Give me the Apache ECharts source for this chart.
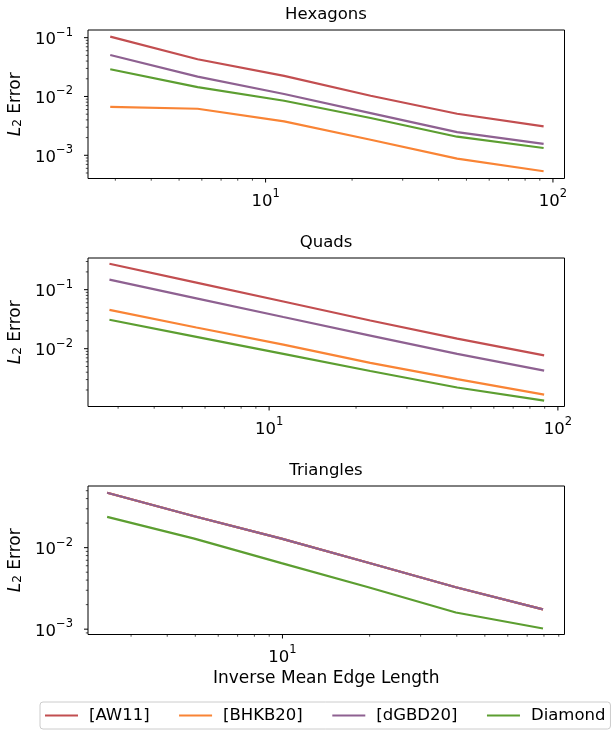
<!DOCTYPE html>
<html>
<head>
<meta charset="utf-8">
<script src="https://cdn.jsdelivr.net/npm/echarts@6/dist/echarts.min.js"></script>
<style>
html, body { margin: 0; padding: 0; background: #fff; }
#main { width: 611px; height: 734px; }
</style>
</head>
<body>
<div id="main"></div>
<script>
const seriesNames = ['[AW11]', '[BHKB20]', '[dGBD20]', 'Diamond'];
const colors = ['#c24e50', '#f98435', '#8e6191', '#5c9e31'];
const panelTitles = ['Hexagons', 'Quads', 'Triangles'];

// Hexagons
const hexX = [2.88, 5.8, 11.6, 23.2, 46.4, 92.8];
const hexAW11 = [0.104, 0.043, 0.0224, 0.0103, 0.00508, 0.0031];
const hexBHKB20 = [0.00668, 0.00618, 0.00377, 0.00184, 0.00088, 0.000536];
const hexDGBD20 = [0.0508, 0.0218, 0.011, 0.00522, 0.00248, 0.00156];
const hexDiamond = [0.029, 0.0144, 0.00845, 0.0043, 0.00207, 0.00133];
const hexXRange = [2.41, 109.7];
const hexYRange = [0.000403, 0.135];

// Quads
const quadX = [2.8, 5.6, 11.2, 22.4, 44.8, 89.6];
const quadAW11 = [0.275, 0.132, 0.063, 0.030, 0.0148, 0.0077];
const quadBHKB20 = [0.0454, 0.0229, 0.0117, 0.00575, 0.00306, 0.00167];
const quadDGBD20 = [0.148, 0.0713, 0.0344, 0.0167, 0.0082, 0.00425];
const quadDiamond = [0.031, 0.0159, 0.0082, 0.0042, 0.0022, 0.00132];
const quadXRange = [2.36, 105.4];
const quadYRange = [0.00105, 0.344];

// Triangles
const triX = [2.48, 4.96, 9.92, 19.8, 39.7, 79.4];
const triAW11 = [0.0472, 0.0243, 0.0129, 0.00653, 0.00327, 0.00175];
const triBHKB20 = [0.0472, 0.0243, 0.0129, 0.00653, 0.00327, 0.00175];
const triDGBD20 = [0.0472, 0.0243, 0.0129, 0.00653, 0.00327, 0.00175];
const triDiamond = [0.0239, 0.0129, 0.00646, 0.00327, 0.0016, 0.00102];
const triXRange = [2.13, 94.2];
const triYRange = [0.00086, 0.0571];

const FONT = 'DejaVu Sans';
const panels = [
  { x: hexX, ys: [hexAW11, hexBHKB20, hexDGBD20, hexDiamond], xr: hexXRange, yr: hexYRange },
  { x: quadX, ys: [quadAW11, quadBHKB20, quadDGBD20, quadDiamond], xr: quadXRange, yr: quadYRange },
  { x: triX, ys: [triAW11, triBHKB20, triDGBD20, triDiamond], xr: triXRange, yr: triYRange }
];
const gridTops = [30, 258, 486];

// log ticks k*10^n inside [min, max]
function logTicks(min, max) {
  const out = [];
  for (let e = Math.floor(Math.log10(min)); e <= Math.ceil(Math.log10(max)); e++) {
    for (let k = 1; k < 10; k++) {
      const v = k * Math.pow(10, e);
      if (v >= min && v <= max) out.push(v);
    }
  }
  return out;
}
function isDecade(v) {
  const e = Math.log10(v);
  return Math.abs(e - Math.round(e)) < 1e-6;
}
function powLabel(v) {
  if (!isDecade(v)) return '';
  const e = Math.round(Math.log10(v));
  return '{b|10}{s|' + String(e).replace('-', '\u2212') + '}';
}
const labelRich = {
  b: { fontFamily: FONT, fontSize: 16.5, color: '#000', lineHeight: 22, verticalAlign: 'bottom' },
  s: { fontFamily: FONT, fontSize: 11.5, color: '#000', lineHeight: 12, verticalAlign: 'top' }
};

const chart = echarts.init(document.getElementById('main'), null, { renderer: 'canvas' });

const grid = [], xAxis = [], yAxis = [], series = [], title = [];
panels.forEach(function (p, i) {
  grid.push({
    left: 88, right: 46.5, top: gridTops[i], height: 148.5,
    show: true, borderColor: '#000', borderWidth: 1, backgroundColor: 'transparent',
    outerBoundsMode: 'none', containLabel: false
  });
  title.push({
    text: panelTitles[i], left: 326, top: gridTops[i] - 24, textAlign: 'center', padding: 0,
    textStyle: { fontFamily: FONT, fontSize: 16.5, fontWeight: 'normal', color: '#000' }
  });
  const xa = {
    type: 'log', gridIndex: i, min: p.xr[0], max: p.xr[1],
    axisLine: { show: false }, axisTick: { show: false }, splitLine: { show: false },
    axisLabel: { formatter: powLabel, rich: labelRich, margin: 10, showMinLabel: false, showMaxLabel: false }
  };
  if (i === 2) {
    xa.name = 'Inverse Mean Edge Length';
    xa.nameLocation = 'middle';
    xa.nameGap = 36;
    xa.nameTextStyle = { fontFamily: FONT, fontSize: 17, color: '#000' };
  }
  xAxis.push(xa);
  yAxis.push({
    type: 'log', gridIndex: i, min: p.yr[0], max: p.yr[1],
    axisLine: { show: false }, axisTick: { show: false }, splitLine: { show: false },
    axisLabel: { formatter: powLabel, rich: labelRich, margin: 15, showMinLabel: false, showMaxLabel: false },
    name: '{i|L}{s|2}{t| Error}', nameLocation: 'middle', nameGap: 62, nameRotate: 90,
    nameTextStyle: {
      rich: {
        i: { fontFamily: FONT, fontSize: 17, fontStyle: 'italic', color: '#000', verticalAlign: 'bottom', lineHeight: 20 },
        s: { fontFamily: FONT, fontSize: 12, color: '#000', verticalAlign: 'bottom', lineHeight: 14, padding: [6, 0, 0, 0] },
        t: { fontFamily: FONT, fontSize: 17, color: '#000', verticalAlign: 'bottom', lineHeight: 20 }
      }
    }
  });
  p.ys.forEach(function (ys, j) {
    series.push({
      name: seriesNames[j], type: 'line', xAxisIndex: i, yAxisIndex: i,
      data: p.x.map(function (x, k) { return [x, ys[k]]; }),
      symbol: 'none', smooth: false,
      lineStyle: { color: colors[j], width: 2.2 },
      itemStyle: { color: colors[j] },
      z: 3 + j
    });
  });
  // matplotlib-style outward major/minor ticks
  const yMin = p.yr[0], xMin = p.xr[0];
  series.push({
    type: 'custom', xAxisIndex: i, yAxisIndex: i, clip: false, silent: true, z: 10,
    data: logTicks(p.xr[0], p.xr[1]).map(function (v) { return [v, yMin]; }),
    renderItem: function (params, api) {
      const v = api.value(0);
      const pt = api.coord([v, yMin]);
      const major = isDecade(v);
      return { type: 'line', shape: { x1: pt[0], y1: pt[1], x2: pt[0], y2: pt[1] + (major ? 4 : 2.2) },
        style: { stroke: '#000', lineWidth: major ? 1 : 0.7 } };
    }
  });
  series.push({
    type: 'custom', xAxisIndex: i, yAxisIndex: i, clip: false, silent: true, z: 10,
    data: logTicks(p.yr[0], p.yr[1]).map(function (v) { return [xMin, v]; }),
    renderItem: function (params, api) {
      const v = api.value(1);
      const pt = api.coord([xMin, v]);
      const major = isDecade(v);
      return { type: 'line', shape: { x1: pt[0], y1: pt[1], x2: pt[0] - (major ? 4 : 2.2), y2: pt[1] },
        style: { stroke: '#000', lineWidth: major ? 1 : 0.7 } };
    }
  });
});

chart.setOption({
  animation: false,
  backgroundColor: '#fff',
  title: title,
  grid: grid,
  xAxis: xAxis,
  yAxis: yAxis,
  legend: {
    data: seriesNames, left: 40, top: 702, width: 640, orient: 'horizontal',
    icon: 'rect', padding: [5, 5, 5, 5], itemWidth: 33, itemHeight: 2.2, itemGap: 29.5,
    borderColor: '#cccccc', borderWidth: 1, borderRadius: 3, backgroundColor: '#fff',
    textStyle: { fontFamily: FONT, fontSize: 16.5, color: '#000', padding: [0, 0, 0, 6] }
  },
  series: series
});
</script>
</body>
</html>
